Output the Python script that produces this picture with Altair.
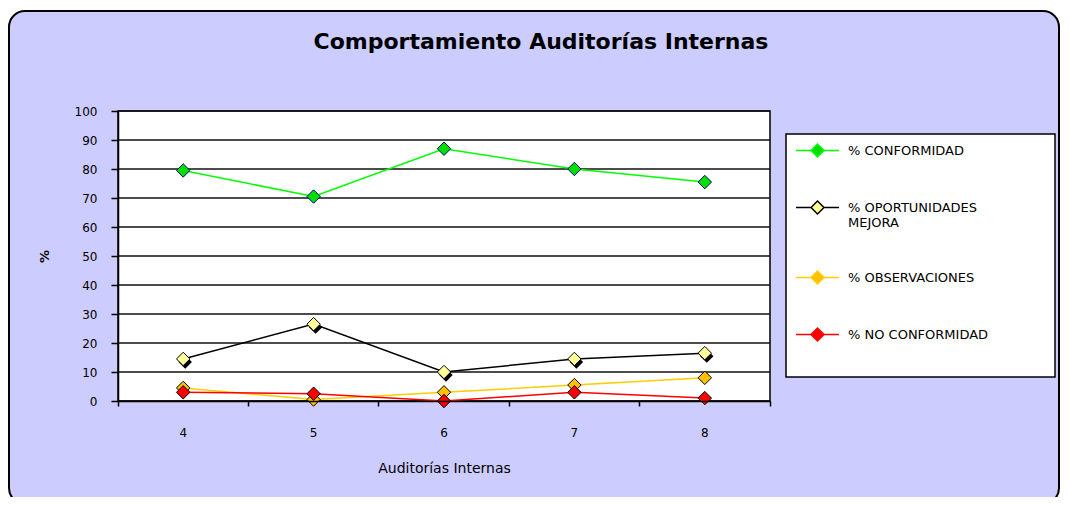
import altair as alt
import pandas as pd

# ---- data ----
title_text = "Comportamiento Auditorías Internas"
x_title = "Auditorías Internas"
y_title = "%"
cats = ["4", "5", "6", "7", "8"]
series = ["% CONFORMIDAD", "% OPORTUNIDADES MEJORA", "% OBSERVACIONES", "% NO CONFORMIDAD"]
conformidad = [79.5, 70.5, 87, 80, 75.5]
oportunidades = [14.5, 26.5, 10, 14.5, 16.5]
observaciones = [4.5, 0.5, 3, 5.5, 8]
no_conformidad = [3, 2.5, 0, 3, 1]
y_ticks = [0, 10, 20, 30, 40, 50, 60, 70, 80, 90, 100]

line_colors = ["#00FF00", "#000000", "#FFCC00", "#FF0000"]
marker_fills = ["#00E000", "#FFFF99", "#FFC000", "#FF0000"]

rows = []
for name, vals in zip(series, [conformidad, oportunidades, observaciones, no_conformidad]):
    for c, v in zip(cats, vals):
        rows.append({"aud": c, "series": name, "value": v})
df = pd.DataFrame(rows)

W, H = 652, 290
FONT = "DejaVu Sans"

x_scale = alt.Scale(type="band", domain=cats, paddingInner=0, paddingOuter=0)
y_scale = alt.Scale(domain=[0, 100], nice=False)

legend = alt.Legend(
    title=None, orient="none", legendX=677, legendY=17,
    symbolType="M-1,0L-0.3,0M0.3,0L1,0M0,-0.3L0.3,0L0,0.3L-0.3,0Z",
    symbolSize=1849, symbolStrokeWidth=1.5, rowPadding=25, labelOffset=8,
    labelFont=FONT, labelFontSize=13, labelColor="#000", padding=0,
    labelLimit=400,
    labelExpr="datum.label == '% OPORTUNIDADES MEJORA' ? ['% OPORTUNIDADES', 'MEJORA'] : datum.label",
)

y_axis = alt.Axis(values=y_ticks, title=y_title, grid=False, tickSize=7, tickColor="#000",
                  tickWidth=1.5, domainColor="#000", domainWidth=1.5, labelPadding=14,
                  labelFont=FONT, labelFontSize=12, labelColor="#000", labelOverlap=False,
                  titleFont=FONT, titleFontSize=13, titleFontWeight="bold", titleColor="#000",
                  titleX=-74, titleY=145, titleBaseline="middle", titleAlign="center", zindex=1)
x_axis = alt.Axis(title=x_title, bandPosition=1, tickExtra=True, labelAngle=0, tickSize=5, tickColor="#000",
                  tickWidth=1.5, domainColor="#000", domainWidth=1.5, labelPadding=21,
                  labelFont=FONT, labelFontSize=12, labelColor="#000",
                  titleFont=FONT, titleFontSize=14, titleFontWeight="normal", titleColor="#000",
                  titleX=326, titleY=67, titleBaseline="middle", zindex=1)

one = alt.Data(values=[{"k": 1}])

bg = alt.Chart(one).mark_rect(fill="#CCCCFF", stroke="#000", strokeWidth=2, cornerRadius=16).encode(
    x=alt.value(-109), x2=alt.value(941), y=alt.value(-100), y2=alt.value(393)
)
plot_bg = alt.Chart(one).mark_rect(fill="#FFFFFF", stroke="#000", strokeWidth=1.5).encode(
    x=alt.value(0), x2=alt.value(W), y=alt.value(0), y2=alt.value(H)
)
legend_box = alt.Chart(one).mark_rect(fill="#FFFFFF", stroke="#000", strokeWidth=1.5).encode(
    x=alt.value(668), x2=alt.value(937), y=alt.value(23), y2=alt.value(266)
)
title = alt.Chart(one).mark_text(
    text=title_text, font=FONT, fontSize=22, fontWeight="bold", color="#000", align="center", baseline="middle"
).encode(x=alt.value(423), y=alt.value(-69))

grid = alt.Chart(pd.DataFrame({"value": y_ticks})).mark_rule(color="#111", strokeWidth=1.5).encode(
    y=alt.Y("value:Q", scale=y_scale, axis=y_axis)
)

x_enc = alt.X("aud:N", scale=x_scale, bandPosition=0.5, sort=cats, axis=x_axis)
y_enc = alt.Y("value:Q", scale=y_scale, axis=y_axis)

base = alt.Chart(df)
lines = base.mark_line(strokeWidth=1.5).encode(
    x=x_enc, y=y_enc,
    stroke=alt.Stroke("series:N", scale=alt.Scale(domain=series, range=line_colors), legend=legend),
)
shadow = base.transform_filter(alt.datum.series == "% OPORTUNIDADES MEJORA").mark_point(
    shape="diamond", filled=True, size=180, fill="#000", opacity=1, xOffset=2, yOffset=3
).encode(x=x_enc, y=y_enc)
points = base.mark_point(shape="diamond", filled=True, size=180, opacity=1, strokeWidth=1).encode(
    x=x_enc, y=y_enc,
    fill=alt.Fill("series:N", scale=alt.Scale(domain=series, range=marker_fills), legend=legend),
    stroke=alt.condition("datum.series == '% CONFORMIDAD'", alt.value("#000080"), alt.value("#000")),
)

chart = alt.layer(bg, plot_bg, legend_box, title, grid, lines, shadow, points).properties(
    width=W, height=H,
    autosize=alt.AutoSizeParams(type="none"),
    padding={"left": 110, "top": 103, "right": 291, "bottom": 96},
).configure(background="#FFFFFF").configure_view(stroke=None, fill=None)

chart.save("out.html", embed_options={"renderer": "svg", "actions": False})
